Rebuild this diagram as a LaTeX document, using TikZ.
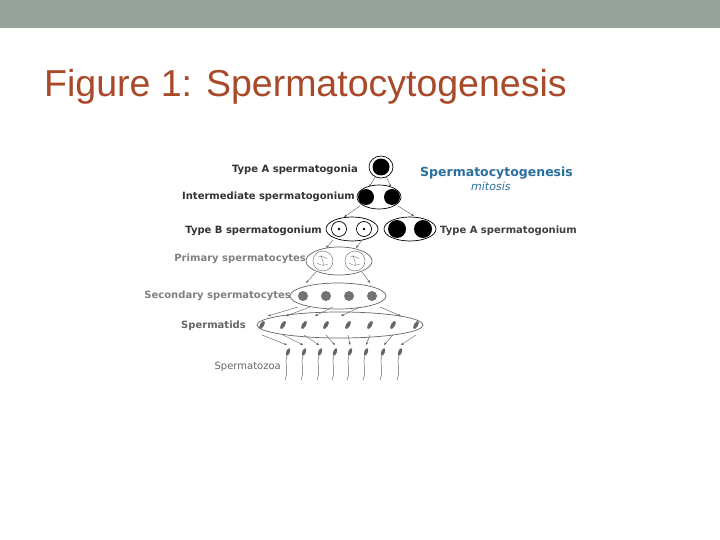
\documentclass[tikz,border=0pt]{standalone}
\usepackage{fontspec}
\setmainfont{Liberation Sans}
\newfontfamily\djvfont{DejaVu Sans}
\usetikzlibrary{arrows.meta}
\definecolor{barc}{HTML}{95A39A}
\definecolor{titc}{HTML}{A8492A}
\definecolor{bluec}{HTML}{2A6F9E}
\tikzset{
 lbl/.style={anchor=east,font=\djvfont\fontsize{10}{11}\selectfont\bfseries,inner sep=0pt},
 cellw/.style={draw,line width=0.7pt,fill=white},
 arr/.style={-{Stealth[length=3pt]},line width=0.4pt,gray!70!black},
}
\begin{document}
\begin{tikzpicture}[x=1pt,y=-1pt]
\useasboundingbox (0,0) rectangle (720,540);
\fill[white] (0,0) rectangle (720,540);
\fill[barc] (0,0) rectangle (720,28);
\node[anchor=base west,inner sep=0pt,text=titc,font=\fontsize{37.5}{40}\selectfont] (title) at (44,97) {Figure 1: Spermatocytogenesis};
% labels
\node[lbl,text=black!80] (la) at (358,170) {Type A spermatogonia};
\node[lbl,text=black!80] (li) at (355,197) {Intermediate spermatogonium};
\node[lbl,text=black!80] (lb) at (322,231) {Type B spermatogonium};
\node[lbl,text=black!50] (lp) at (306,259) {Primary spermatocytes};
\node[lbl,text=black!50] (ls) at (291,296) {Secondary spermatocytes};
\node[lbl,text=black!60] (lt) at (246,326) {Spermatids};
\node[lbl,text=black!60,font=\djvfont\fontsize{10}{11}\selectfont] (lz) at (281,367) {Spermatozoa};
\node[anchor=west,inner sep=0pt,text=bluec,font=\djvfont\fontsize{12.5}{13}\selectfont\bfseries] (sp) at (420,173) {Spermatocytogenesis};
\node[anchor=west,inner sep=0pt,text=bluec,font=\djvfont\fontsize{11}{12}\selectfont\itshape] (mi) at (471,186) {mitosis};
\node[anchor=west,inner sep=0pt,text=black!75,font=\djvfont\fontsize{10}{11}\selectfont\bfseries] (ta) at (440,231) {Type A spermatogonium};
% type A
\draw[cellw] (381,167) ellipse (12 and 11);
\fill (381,167) circle (8.5);
% intermediate
\draw[cellw] (379,197) ellipse (22 and 12);
\fill (366,197) circle (8); \fill (392,197) circle (8);
% type B
\draw[cellw] (352,229) ellipse (26 and 12);
\draw[cellw] (339,229) circle (7.5); \fill (339,229) circle (1.3);
\draw[cellw] (364,229) circle (7.5); \fill (364,229) circle (1.3);
% type A pair
\draw[cellw] (410,229) ellipse (26 and 12);
\fill (397,229) circle (9); \fill (423,229) circle (9);
% primary
\draw[cellw,draw=black!60] (339,261) ellipse (33 and 14);
\foreach \x in {323,355}{\draw[black!60,fill=white] (\x,261) circle (10);
 \draw[black!50,line width=0.4pt] (\x-5,257) to[bend left] (\x+4,259) (\x-6,263) to[bend right] (\x+5,264) (\x-2,255) -- (\x+1,266);}
% secondary
\draw[cellw,draw=black!60] (338,296) ellipse (48 and 13);
\foreach \x in {303,326,349,372}{\fill[black!55] (\x,296) circle (5);}
% spermatids
\draw[cellw,draw=black!60] (340,325) ellipse (83 and 13);
\foreach \x in {262,283,304,326,348,370,393,416}{
 \fill[black!60,rotate around={60:(\x,325)}] (\x,325) ellipse (4.5 and 2);}
% spermatozoa
\foreach \x in {288,304,320,335,350,366,383,400}{
 \fill[black!60,rotate around={70:(\x,352)}] (\x,352) ellipse (4 and 1.8);
 \draw[black!60,line width=0.5pt] (\x-1,356) .. controls (\x-4,364) and (\x+1,370) .. (\x-3,380);}
% arrows
\draw[arr] (376,176) -- (369,187);
\draw[arr] (386,176) -- (391,187);
\draw[arr] (360,206) -- (344,217);
\draw[arr] (398,206) -- (414,216);
\draw[arr] (333,240) -- (326,248);
\draw[arr] (362,240) -- (356,248);
\draw[arr] (316,272) -- (306,283);
\draw[arr] (362,272) -- (370,283);
\foreach \x/\y in {298/268,310/286,333/315,360/341,380/401}{
 \draw[arr] (\x,307) -- (\y,316);}
\foreach \a/\b in {262/287,283/303,304/319,326/335,348/350,370/366,393/384,416/401}{
 \draw[arr] (\a,335) -- (\b,345);}
\end{tikzpicture}
\end{document}
